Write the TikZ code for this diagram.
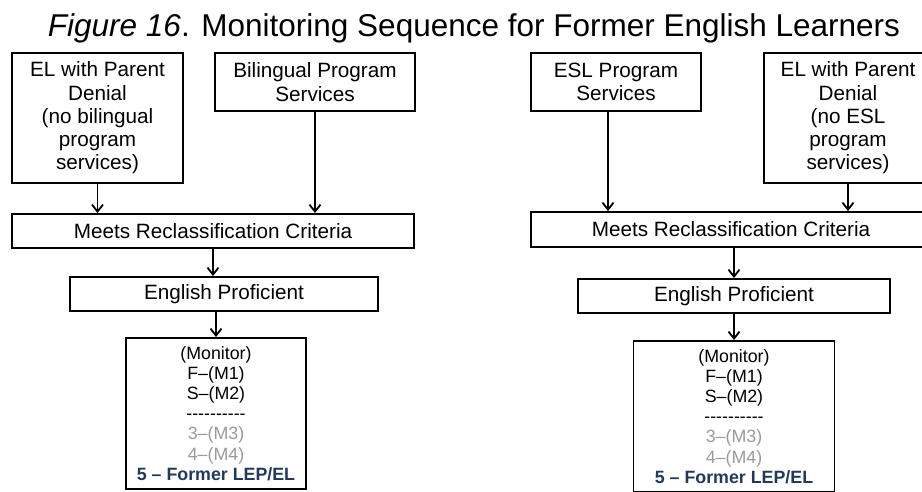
\documentclass[tikz,border=0pt]{standalone}
\usepackage{fontspec}
\newfontfamily\arial{Liberation Sans}
\usepackage{xcolor}
\definecolor{grey}{HTML}{9A9A9A}
\definecolor{navy}{HTML}{22395C}
\usetikzlibrary{arrows.meta}

\begin{document}
\begin{tikzpicture}[x=1pt, y=-1pt,
  box/.style={draw, line width=1.9pt, inner sep=0pt, align=center, font=\arial\fontsize{20.7}{23.3}\selectfont},
  mon/.style={box, font=\arial\fontsize{17.8}{20.2}\selectfont},
  flow/.style={-{Straight Barb[length=7pt,width=11pt]}, line width=1.8pt}]
\useasboundingbox (0,0) rectangle (922,491);
\node[anchor=base, font=\arial\fontsize{31.5}{36}\selectfont] (title) at (474,36) {\textit{Figure 16}. Monitoring Sequence for Former English Learners};
% left
\node[box, minimum width=171, minimum height=130] (elL) at (97.5,118) {EL with Parent\\Denial\\(no bilingual\\program\\services)};
\node[box, minimum width=200, minimum height=58] (bilL) at (315,82) {Bilingual Program\\Services};
\node[box, minimum width=402, minimum height=34] (meetL) at (213,231) {Meets Reclassification Criteria};
\node[box, minimum width=308, minimum height=34] (profL) at (224,294) {English Proficient};
\node[mon, minimum width=180, minimum height=151] (monL) at (216,413.5) {(Monitor)\\F–(M1)\\S–(M2)\\----------\\\textcolor{grey}{3–(M3)}\\\textcolor{grey}{4–(M4)}\\\textcolor{navy}{\bfseries 5 – Former LEP/EL}};
% right
\node[box, minimum width=170, minimum height=58] (eslR) at (616,82) {ESL Program\\Services};
\node[box, minimum width=168, minimum height=130] (elR) at (848,118) {EL with Parent\\Denial\\(no ESL\\program\\services)};
\node[box, minimum width=400, minimum height=35] (meetR) at (731,229.5) {Meets Reclassification Criteria};
\node[box, minimum width=312, minimum height=34] (profR) at (734,296) {English Proficient};
\node[mon, minimum width=201, minimum height=151] (monR) at (734,416.5) {(Monitor)\\F–(M1)\\S–(M2)\\----------\\\textcolor{grey}{3–(M3)}\\\textcolor{grey}{4–(M4)}\\\textcolor{navy}{\bfseries 5 – Former LEP/EL}};
% arrows
\draw[flow] (elL.south) -- (elL.south |- meetL.north);
\draw[flow] (bilL.south) -- (bilL.south |- meetL.north);
\draw[flow] (meetL.south) -- (meetL.south |- profL.north);
\draw[flow] (monL.north |- profL.south) -- (monL.north);
\draw[flow] ([xshift=-8pt]eslR.south) -- ([xshift=-8pt]eslR.south |- meetR.north);
\draw[flow] (elR.south) -- (elR.south |- meetR.north);
\draw[flow] (meetR.south -| profR.north) -- (profR.north);
\draw[flow] (profR.south) -- (monR.north);
\end{tikzpicture}
\end{document}
